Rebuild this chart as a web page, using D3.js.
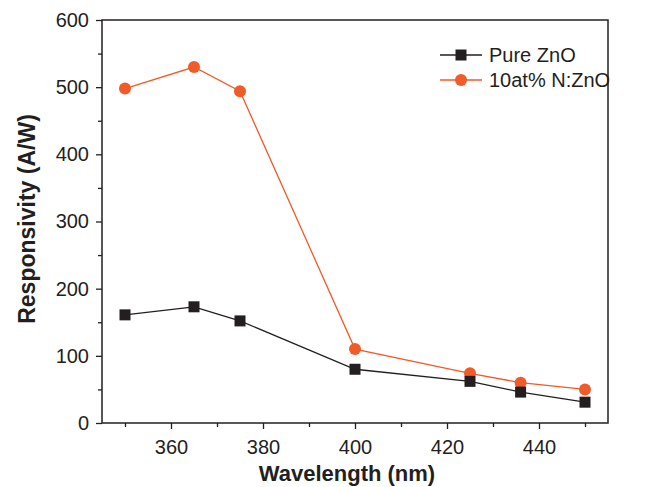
<!DOCTYPE html>
<html>
<head>
<meta charset="utf-8">
<script src="https://cdn.jsdelivr.net/npm/d3@7"></script>
<style>
  body { margin: 0; background: #fff; }
  text { font-family: "Liberation Sans", Arial, sans-serif; fill: #231f20; }
</style>
</head>
<body>
<div id="svg"></div>
<script>
// wavelengths (nm)
var wavelength = [350, 365, 375, 400, 425, 436, 450];
// responsivity (A/W)
var pureZnO = [161, 173, 152, 80, 62, 46, 31];
var nZnO = [498, 530, 494, 110, 74, 60, 50];
var seriesNames = ["Pure ZnO", "10at% N:ZnO"];
var xTicks = [360, 380, 400, 420, 440];
var yTicks = [0, 100, 200, 300, 400, 500, 600];

var width = 656, height = 487;
var margin = {top: 20, right: 48, bottom: 64, left: 102};

var svg = d3.select("#svg").append("svg")
    .attr("width", width)
    .attr("height", height);

var x = d3.scaleLinear()
    .domain([345, 455])
    .range([margin.left, width - margin.right]);

var y = d3.scaleLinear()
    .domain([0, 600])
    .range([height - margin.bottom, margin.top]);

var axisColor = "#231f20";

// frame
svg.append("rect")
    .attr("x", x(345))
    .attr("y", y(600))
    .attr("width", x(455) - x(345))
    .attr("height", y(0) - y(600))
    .attr("fill", "none")
    .attr("stroke", axisColor)
    .attr("stroke-width", 1.5);

// x axis, major and minor ticks
svg.append("g")
    .attr("transform", "translate(0," + y(0) + ")")
    .call(d3.axisBottom(x).tickValues(xTicks).tickSize(6).tickPadding(11).tickFormat(d3.format("d")));
svg.append("g")
    .attr("transform", "translate(0," + y(0) + ")")
    .call(d3.axisBottom(x).tickValues([350, 370, 390, 410, 430, 450]).tickSize(4).tickFormat(""));

// y axis
svg.append("g")
    .attr("transform", "translate(" + x(345) + ",0)")
    .call(d3.axisLeft(y).tickValues(yTicks).tickSize(6).tickPadding(7).tickFormat(d3.format("d")));
svg.append("g")
    .attr("transform", "translate(" + x(345) + ",0)")
    .call(d3.axisLeft(y).tickValues([50, 150, 250, 350, 450, 550]).tickSize(4).tickFormat(""));

svg.selectAll(".domain").remove();
svg.selectAll(".tick line").attr("stroke", axisColor).attr("stroke-width", 1.3);
svg.selectAll(".tick text")
    .style("font-size", "20px")
    .style("font-family", "Liberation Sans, Arial, sans-serif")
    .attr("fill", axisColor);

// axis titles
svg.append("text")
    .attr("x", 347)
    .attr("y", 481)
    .attr("text-anchor", "middle")
    .style("font-size", "22px")
    .style("font-weight", "bold")
    .text("Wavelength (nm)");

svg.append("text")
    .attr("transform", "translate(35," + 219 + ") rotate(-90)")
    .attr("text-anchor", "middle")
    .style("font-size", "23px")
    .style("font-weight", "bold")
    .text("Responsivity (A/W)");

var line = d3.line()
    .x(function(d){ return x(d[0]); })
    .y(function(d){ return y(d[1]); });

var black = "#231f20", orange = "#f15a29";

var pureData = wavelength.map(function(w, i){ return [w, pureZnO[i]]; });
var nData = wavelength.map(function(w, i){ return [w, nZnO[i]]; });

// N:ZnO
svg.append("path")
    .datum(nData)
    .attr("d", line)
    .attr("fill", "none")
    .attr("stroke", orange)
    .attr("stroke-width", 1.3);
svg.append("g").selectAll("circle")
    .data(nData)
    .enter().append("circle")
    .attr("cx", function(d){ return x(d[0]); })
    .attr("cy", function(d){ return y(d[1]); })
    .attr("r", 6)
    .attr("fill", orange);

// Pure ZnO
svg.append("path")
    .datum(pureData)
    .attr("d", line)
    .attr("fill", "none")
    .attr("stroke", black)
    .attr("stroke-width", 1.3);
svg.append("g").selectAll("rect")
    .data(pureData)
    .enter().append("rect")
    .attr("x", function(d){ return x(d[0]) - 5.5; })
    .attr("y", function(d){ return y(d[1]) - 5.5; })
    .attr("width", 11)
    .attr("height", 11)
    .attr("fill", black);

// legend
var legend = svg.append("g");
var rows = [{name: seriesNames[0], color: black, shape: "square", y: 55},
            {name: seriesNames[1], color: orange, shape: "circle", y: 80}];
rows.forEach(function(r){
    legend.append("line")
        .attr("x1", 440).attr("x2", 482)
        .attr("y1", r.y).attr("y2", r.y)
        .attr("stroke", r.color)
        .attr("stroke-width", 1.3);
    if (r.shape === "square") {
        legend.append("rect")
            .attr("x", 461 - 5.5).attr("y", r.y - 5.5)
            .attr("width", 11).attr("height", 11)
            .attr("fill", r.color);
    } else {
        legend.append("circle")
            .attr("cx", 461).attr("cy", r.y)
            .attr("r", 6)
            .attr("fill", r.color);
    }
    legend.append("text")
        .attr("x", 489)
        .attr("y", r.y)
        .attr("dy", "0.35em")
        .style("font-size", "20px")
        .text(r.name);
});
</script>
</body>
</html>
